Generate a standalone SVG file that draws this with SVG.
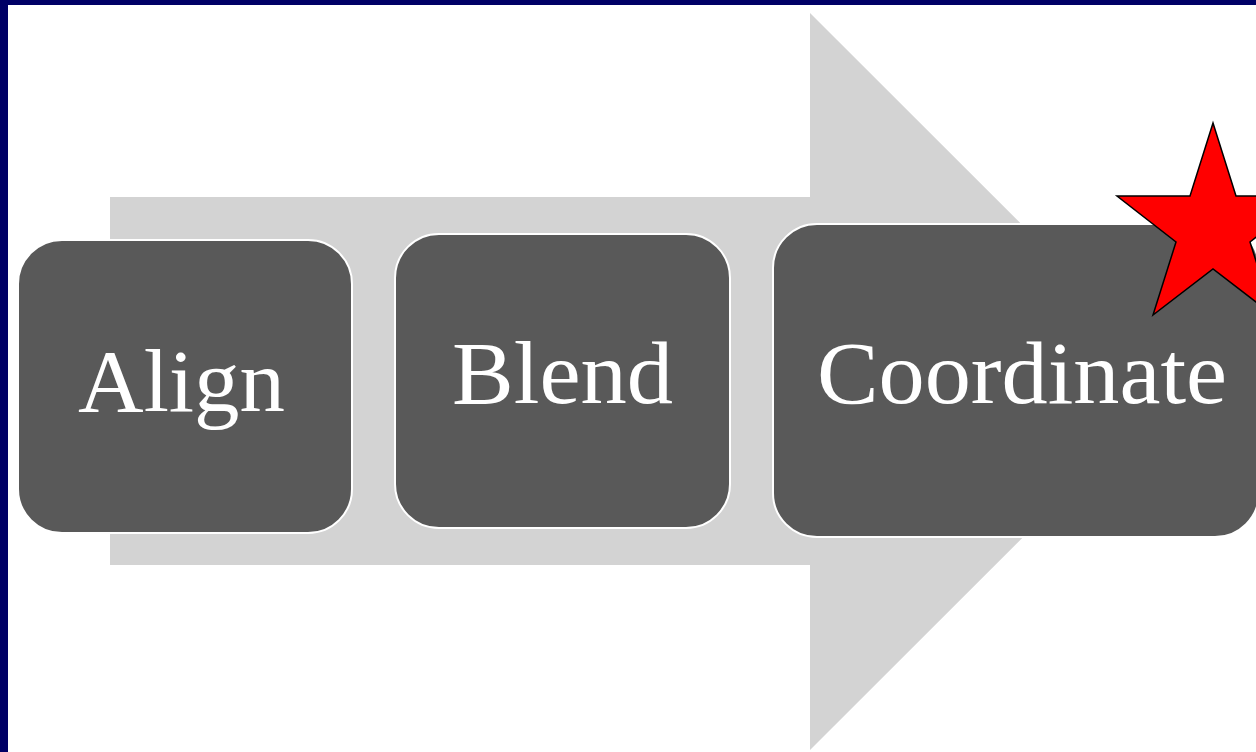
<svg xmlns="http://www.w3.org/2000/svg" width="1256" height="752" viewBox="0 0 1256 752">
  <style>
    .box { fill: #595959; stroke: #ffffff; stroke-width: 2; }
    .lbl { font-family: "Liberation Serif", "DejaVu Serif", serif; font-size: 88px; fill: #ffffff; text-anchor: start; }
  </style>
  <rect x="0" y="0" width="1256" height="752" fill="#ffffff"/>
  <rect x="0" y="0" width="1256" height="5" fill="#000066"/>
  <rect x="0" y="0" width="8" height="752" fill="#000066"/>
  <g id="arrow">
    <path d="M110,197 L810,197 L810,13 L1179,381.5 L810,750 L810,565 L110,565 Z" fill="#d3d3d3"/>
  </g>
  <g id="connectors"></g>
  <g id="node-align">
    <rect class="box" x="18" y="240" width="334" height="293" rx="44" ry="44"/>
    <text class="lbl" x="78" y="411" textLength="207" lengthAdjust="spacingAndGlyphs">Align</text>
  </g>
  <g id="node-blend">
    <rect class="box" x="395" y="234" width="335" height="294" rx="44" ry="44"/>
    <text class="lbl" x="452" y="403" textLength="221" lengthAdjust="spacingAndGlyphs">Blend</text>
  </g>
  <g id="node-coordinate">
    <rect class="box" x="773" y="224" width="486" height="313" rx="44" ry="44"/>
    <text class="lbl" x="817" y="403" textLength="410" lengthAdjust="spacingAndGlyphs">Coordinate</text>
  </g>
  <g id="star">
    <polygon points="1213,123 1236,196 1309,196 1250,242 1273,315 1213,269 1153,315 1176,242 1117,196 1190,196" fill="#ff0000" stroke="#000000" stroke-width="1.5" stroke-linejoin="miter"/>
  </g>
</svg>
